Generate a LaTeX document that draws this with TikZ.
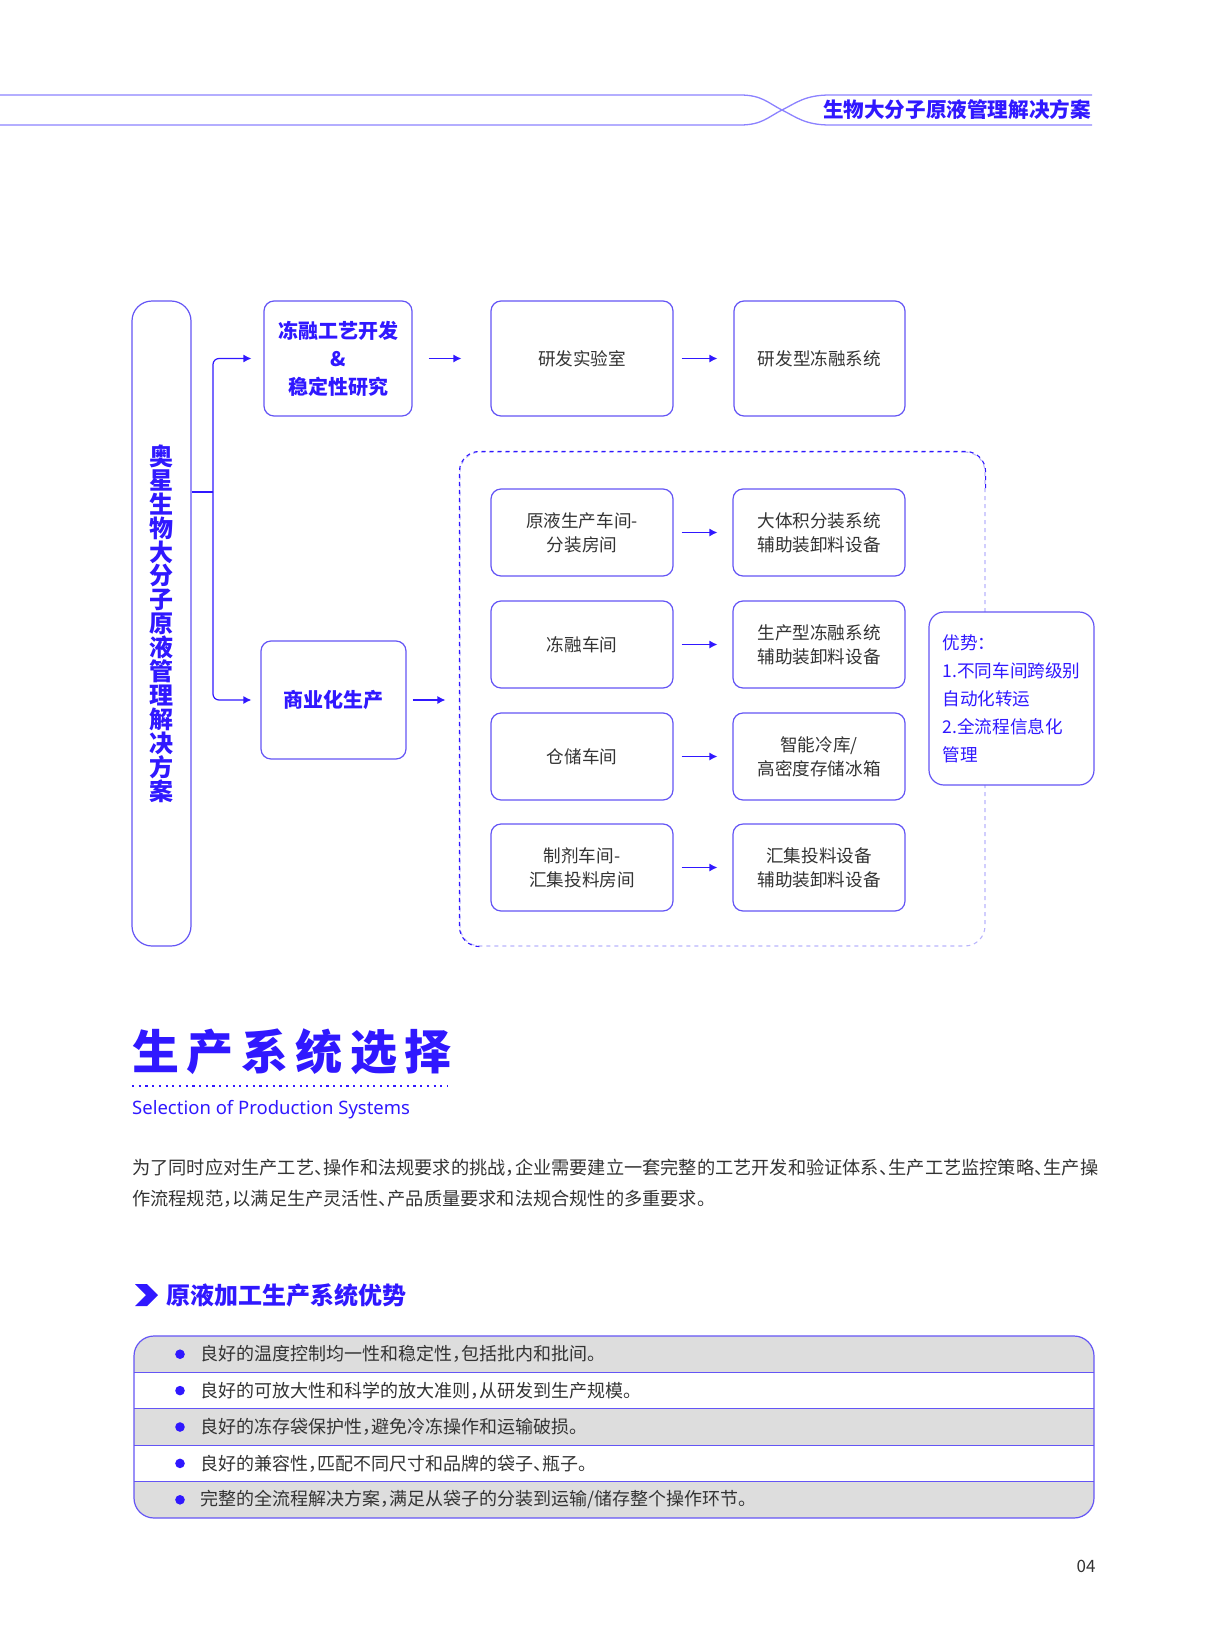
\documentclass[tikz,border=0pt]{standalone}
\usepackage{fontspec}
\setmainfont{Noto Sans CJK SC}
\newfontfamily\enfont{Noto Sans}
\usetikzlibrary{arrows.meta,calc}
\definecolor{tblue}{RGB}{48,24,255}
\definecolor{bblue}{RGB}{100,85,245}
\definecolor{lblue}{RGB}{185,180,252}
\definecolor{hdrc}{RGB}{140,130,255}
\definecolor{txt}{RGB}{51,51,51}
\definecolor{rowgray}{RGB}{221,221,221}
\newcommand{\hfp}[1]{\makebox[0.52em][l]{#1}}
\begin{document}
\begin{tikzpicture}[x=1pt,y=-1pt,
  box/.style={draw=bblue, line width=1.2pt, rounded corners=10pt, fill=white, inner sep=0pt, align=center, text=txt, font=\fontsize{17.6}{24}\selectfont},
  sbox/.style={box, minimum width=182pt, minimum height=87pt},
  ebox/.style={box, minimum width=172pt, minimum height=87pt},
  bbox/.style={box, text=tblue, font=\fontsize{20}{28}\selectfont\bfseries},
  arr/.style={draw=tblue, line width=1.2pt, -{Latex[length=8pt,width=8pt]}},
  conn/.style={draw=tblue, line width=1.2pt},
  rowtext/.style={anchor=west, inner sep=0pt, text=txt, font=\fontsize{18}{22}\selectfont},
]
\useasboundingbox (0,0) rectangle (1226,1651);

% ---------- header ----------
\draw[hdrc, line width=1.3pt] (0,95) -- (740,95) .. controls (762,95) and (768,103) .. (782,110) .. controls (796,117) and (805,125) .. (830,125) -- (1092,125);
\draw[hdrc, line width=1.3pt] (0,125) -- (740,125) .. controls (762,125) and (768,117) .. (782,110) .. controls (796,103) and (805,95) .. (830,95) -- (1092,95);
\node[inner sep=0pt, text=tblue, font=\fontsize{20.6}{24}\selectfont\bfseries] (hdr) at (957,110) {生物大分子原液管理解决方案};

% ---------- diagram ----------
\node[box, rounded corners=20pt, minimum width=59pt, minimum height=645pt, text=tblue, font=\fontsize{24}{23.9}\selectfont\bfseries] (tall) at (161.5,623.5)
  {奥\\星\\生\\物\\大\\分\\子\\原\\液\\管\\理\\解\\决\\方\\案};

\node[bbox, minimum width=148pt, minimum height=115pt] (dr) at (338,358.5) {冻融工艺开发\\\&\\稳定性研究};
\node[box, minimum width=182pt, minimum height=115pt] (lab) at (582,358.5) {研发实验室};
\node[box, minimum width=171pt, minimum height=115pt] (labsys) at (819.5,358.5) {研发型冻融系统};

\node[bbox, minimum width=145pt, minimum height=118pt] (sy) at (333.5,700) {商业化生产};

% dashed container
\node[draw=lblue, line width=1.1pt, dash pattern=on 4pt off 4pt, rounded corners=20pt, minimum width=525pt, minimum height=494pt, inner sep=0pt] (prod) at (722.5,699) {};
\draw[tblue, line width=1.1pt, dash pattern=on 4pt off 4pt, rounded corners=20pt]
  ($(prod.south west)+(20,0)$) -- (prod.south west) -- (prod.north west) -- (prod.north east) -- ($(prod.north east)+(0,40)$);

\node[sbox] (r1a) at (582,532.5) {原液生产车间-\\分装房间};
\node[ebox] (r1b) at (819,532.5) {大体积分装系统\\辅助装卸料设备};
\node[sbox] (r2a) at (582,644.5) {冻融车间};
\node[ebox] (r2b) at (819,644.5) {生产型冻融系统\\辅助装卸料设备};
\node[sbox] (r3a) at (582,756.5) {仓储车间};
\node[ebox] (r3b) at (819,756.5) {智能冷库/\\高密度存储冰箱};
\node[sbox] (r4a) at (582,867.5) {制剂车间-\\汇集投料房间};
\node[ebox] (r4b) at (819,867.5) {汇集投料设备\\辅助装卸料设备};

\node[box, rounded corners=15pt, minimum width=165pt, minimum height=173pt, text=tblue, align=left, font=\fontsize{17.6}{28}\selectfont] (adv) at (1011.5,698.5)
  {优势：\\1.不同车间跨级别\\自动化转运\\2.全流程信息化\\管理};

% connectors
\coordinate (j) at (213,492);
\draw[conn] (tall.east |- j) -- (j);
\draw[arr, rounded corners=6pt, shorten >=12pt] (j) |- (dr.west);
\draw[arr, rounded corners=6pt, shorten >=9pt] (j) |- (sy.west);
\draw[arr, shorten <=16pt, shorten >=29pt] (dr.east) -- (lab.west);
\draw[arr, shorten <=8pt, shorten >=16pt] (lab.east) -- (labsys.west);
\draw[arr, shorten <=6pt, shorten >=14pt] (sy.east) -- (prod.west |- sy.east);
\foreach \r in {1,2,3,4}{
  \draw[arr, shorten <=8pt, shorten >=15pt] (r\r a.east) -- (r\r b.west);
}

% ---------- lower section ----------
\node[anchor=west, inner sep=0pt, text=tblue, font=\fontsize{47}{50}\selectfont\bfseries] (title) at (132,1052)
  {生\hspace{7.5pt}产\hspace{7.5pt}系\hspace{7.5pt}统\hspace{7.5pt}选\hspace{7.5pt}择};
\draw[tblue, line width=2.2pt, dash pattern=on 2.2pt off 4.5pt] (title.west |- 0,1086) -- (447,1086);
\node[anchor=base west, inner sep=0pt, text=tblue, font=\enfont\fontsize{18.5}{22}\selectfont] (sub) at (132,1114) {Selection of Production Systems};

\node[rowtext, font=\fontsize{18.2}{22}\selectfont] (p1) at (132,1168) {为了同时应对生产工艺\hfp{、}操作和法规要求的挑战\hfp{，}企业需要建立一套完整的工艺开发和验证体系\hfp{、}生产工艺监控策略\hfp{、}生产操};
\node[rowtext, font=\fontsize{18.2}{22}\selectfont] (p2) at (132,1199) {作流程规范\hfp{，}以满足生产灵活性\hfp{、}产品质量要求和法规合规性的多重要求。};

\fill[tblue] (135,1284) -- (147,1284) -- (158,1295) -- (147,1306) -- (135,1306) -- (146,1295) -- cycle;
\node[anchor=west, inner sep=0pt, text=tblue, font=\fontsize{24}{28}\selectfont\bfseries] (h2) at (166,1295) {原液加工生产系统优势};

% table
\begin{scope}
\clip[rounded corners=20pt] (134,1336) rectangle (1094,1518);
\fill[rowgray] (134,1336) rectangle (1094,1372.4);
\fill[rowgray] (134,1408.8) rectangle (1094,1445.2);
\fill[rowgray] (134,1481.6) rectangle (1094,1518);
\end{scope}
\foreach \yy in {1372.4,1408.8,1445.2,1481.6}{
  \draw[bblue, line width=1.2pt] (134,\yy) -- (1094,\yy);
}
\draw[bblue, line width=1.2pt, rounded corners=20pt] (134,1336) rectangle (1094,1518);
\foreach \i/\yy in {1/1354.2,2/1390.6,3/1427,4/1463.4,5/1499.8}{
  \fill[tblue] (180,\yy) circle (4.8pt);
}
\node[rowtext] (t1) at (200,1354.2) {良好的温度控制均一性和稳定性\hfp{，}包括批内和批间。};
\node[rowtext] (t2) at (200,1390.6) {良好的可放大性和科学的放大准则\hfp{，}从研发到生产规模。};
\node[rowtext] (t3) at (200,1427) {良好的冻存袋保护性\hfp{，}避免冷冻操作和运输破损。};
\node[rowtext] (t4) at (200,1463.4) {良好的兼容性\hfp{，}匹配不同尺寸和品牌的袋子\hfp{、}瓶子。};
\node[rowtext] (t5) at (200,1499.8) {完整的全流程解决方案\hfp{，}满足从袋子的分装到运输/储存整个操作环节。};

\node[inner sep=0pt, text=txt, font=\fontsize{17}{20}\selectfont] (pg) at (1086,1566) {04};
\end{tikzpicture}
\end{document}
